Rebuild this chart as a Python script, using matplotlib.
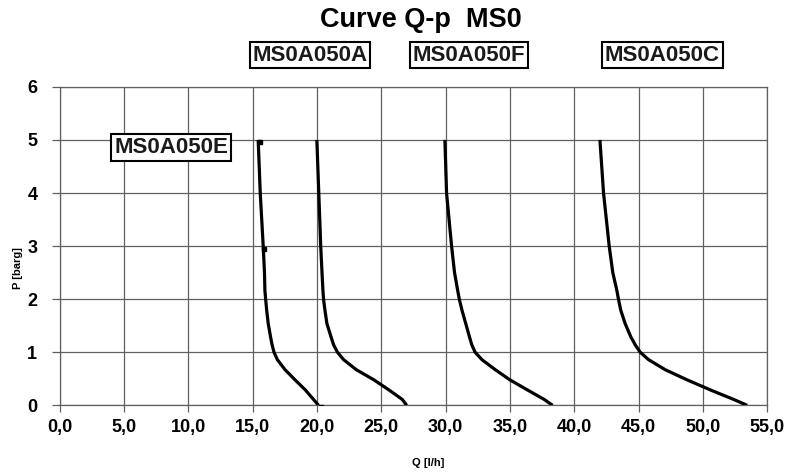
import matplotlib
matplotlib.use("Agg")
import matplotlib.pyplot as plt

plt.rcParams['font.family'] = ['Liberation Sans', 'DejaVu Sans']

# Data (Q [l/h], P [barg])
p_levels = [5, 4, 3, 2.5, 2.17, 2.0, 1.79, 1.54, 1.29, 1.14, 1.0, 0.86, 0.67, 0.48, 0.29, 0.11, 0]
q_E = [15.44, 15.6, 15.83, 15.93, 15.96, 16.02, 16.1, 16.22, 16.4, 16.52, 16.67, 16.93, 17.53, 18.3, 19.1, 19.74, 20.13]
q_A = [20.0, 20.15, 20.3, 20.4, 20.47, 20.52, 20.63, 20.78, 21.1, 21.3, 21.6, 22.08, 23.07, 24.43, 25.6, 26.64, 26.98]
q_F = [29.95, 30.08, 30.47, 30.7, 30.94, 31.07, 31.28, 31.57, 31.86, 32.04, 32.3, 32.83, 33.87, 35.0, 36.36, 37.67, 38.32]
q_C = [42.0, 42.28, 42.72, 43.0, 43.31, 43.44, 43.62, 43.96, 44.4, 44.74, 45.13, 45.78, 47.08, 48.77, 50.58, 52.4, 53.44]
marker_q_E = [15.6, 15.9, 20.35]
marker_p_E = [4.97, 2.95, -0.03]

labels = ["MS0A050E", "MS0A050A", "MS0A050F", "MS0A050C"]
label_x = [8.66, 19.45, 31.8, 46.85]
label_y = [4.86, 6.6, 6.6, 6.6]

x_ticks = [0, 5, 10, 15, 20, 25, 30, 35, 40, 45, 50, 55]
x_ticklabels = ["0,0", "5,0", "10,0", "15,0", "20,0", "25,0", "30,0", "35,0", "40,0", "45,0", "50,0", "55,0"]
y_ticks = [0, 1, 2, 3, 4, 5, 6]

fig = plt.figure(figsize=(8, 4.72), dpi=100)
ax = fig.add_axes([0.0744, 0.1413, 0.959 - 0.0744, 0.816 - 0.1413])

gc = '#606060'
for q in [q_E, q_A, q_F, q_C]:
    ax.plot(q, p_levels, color='black', lw=2.3, solid_capstyle='butt',
            solid_joinstyle='round', zorder=3)
ax.plot(marker_q_E, marker_p_E, linestyle='none', marker='s', ms=3, color='black', zorder=4)

ax.set_xlim(0, 55)
ax.set_ylim(0, 6)
ax.set_xticks(x_ticks)
ax.set_xticklabels(x_ticklabels, fontsize=13, fontweight='bold')
ax.set_yticks(y_ticks)
ax.set_yticklabels([str(v) for v in y_ticks], fontsize=13, fontweight='bold')
ax.grid(True, color=gc, lw=0.9)
ax.set_axisbelow(True)
for s in ax.spines.values():
    s.set_color(gc)
    s.set_linewidth(0.9)
ax.tick_params(axis='x', color=gc, length=5, width=0.9, pad=5)
ax.tick_params(axis='y', color=gc, length=6, width=0.9, pad=10)

ax.set_xlabel("Q [l/h]", fontsize=8, fontweight='bold', va='center')
ax.set_ylabel("P [barg]", fontsize=8, fontweight='bold', va='center')
ax.xaxis.set_label_coords((428 - 59.5) / 707.5, -(463 - 405.3) / 318.5)
ax.yaxis.set_label_coords((18 - 59.5) / 707.5, (405.3 - 268) / 318.5)

for t, x, y in zip(labels, label_x, label_y):
    ax.text(x, y, t, ha='center', va='center', fontsize=16, fontweight='bold',
            color='#1a1a1a', clip_on=False, zorder=5,
            bbox=dict(boxstyle='square,pad=0.12', fc='white', ec='black', lw=1.5))

fig.text(421 / 800, 1 - 20 / 472, "Curve Q-p  MS0", ha='center', va='center',
         fontsize=19.5, fontweight='bold')

fig.savefig("out.png", dpi=100)
